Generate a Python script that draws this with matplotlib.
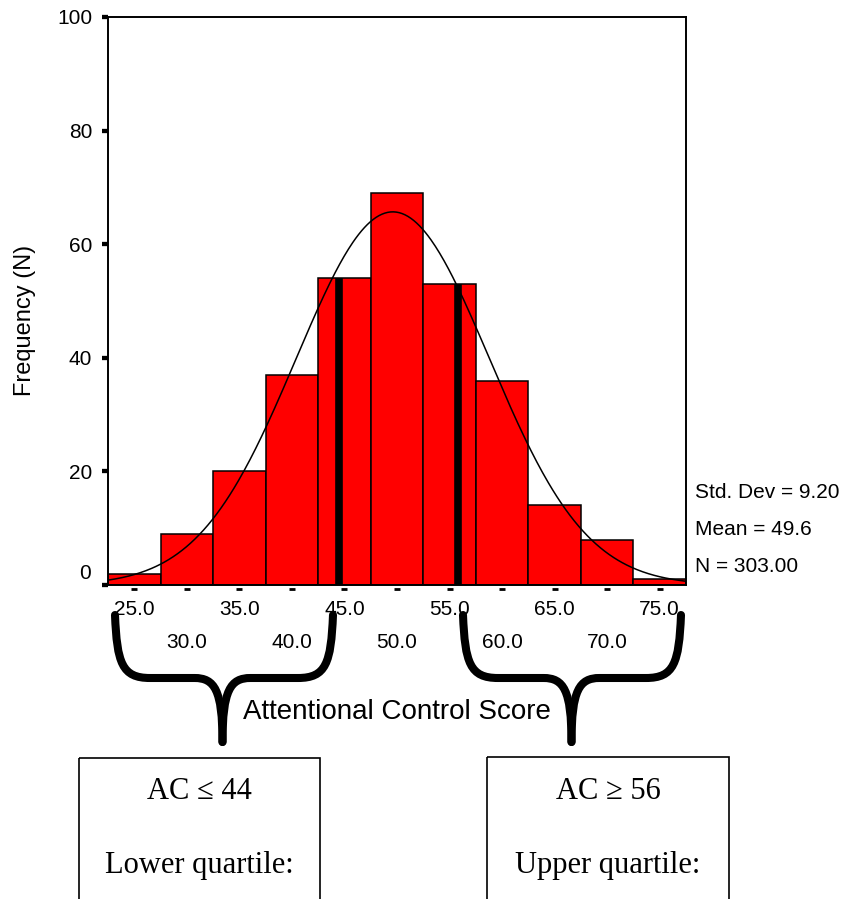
import numpy as np
import matplotlib
matplotlib.use("Agg")
import matplotlib.pyplot as plt
from matplotlib.path import Path
from matplotlib.patches import PathPatch, Rectangle
from matplotlib.transforms import ScaledTranslation

# ---------------- data ----------------
bin_centers = [25, 30, 35, 40, 45, 50, 55, 60, 65, 70, 75]
counts = [2, 9, 20, 37, 54, 69, 53, 36, 14, 8, 1]
bin_width = 5
std_dev = 9.20
mean = 49.6
n_total = 303
cutoffs = [44.5, 55.8]
cutoff_heights = [54, 53]
xtick_row1 = [25.0, 35.0, 45.0, 55.0, 65.0, 75.0]
xtick_row2 = [30.0, 40.0, 50.0, 60.0, 70.0]
yticks = [0, 20, 40, 60, 80, 100]
x_label = "Attentional Control Score"
y_label = "Frequency (N)"
lower_box = ["AC \u2264 44", "Lower quartile:"]
upper_box = ["AC \u2265 56", "Upper quartile:"]

plt.rcParams['font.family'] = ['Liberation Sans', 'DejaVu Sans']
SERIF = ['Liberation Serif', 'DejaVu Serif']

W, H = 843, 899
fig = plt.figure(figsize=(W / 100, H / 100), dpi=100)


def fx(x):
    return x / W


def fy(y):
    return 1 - y / H


ax = fig.add_axes([fx(108), fy(585), (686 - 108) / W, (585 - 17) / H])
ax.bar(bin_centers, counts, width=bin_width, color='#ff0000',
       edgecolor='black', linewidth=1.1, zorder=2)
ax.vlines(cutoffs, 0, cutoff_heights, colors='black', linewidth=5.5, zorder=3)

lo = bin_centers[0] - bin_width / 2
hi = bin_centers[-1] + bin_width / 2
xs = np.linspace(lo, hi, 400)
ys = n_total * bin_width / (std_dev * np.sqrt(2 * np.pi)) * \
    np.exp(-0.5 * ((xs - mean) / std_dev) ** 2)
ax.plot(xs, ys, color='black', lw=1.1, zorder=4)

ax.set_xlim(lo, hi)
ax.set_ylim(0, 100)
for s in ax.spines.values():
    s.set_linewidth(1.4)

ax.set_yticks(yticks)
ax.set_yticklabels(['' if v == 0 else str(v) for v in yticks])
ax.tick_params(axis='y', length=4.3, width=3.1, pad=7, labelsize=15)
ax.text(-0.0, 2, '0', transform=ax.get_yaxis_transform() +
        ScaledTranslation(-0.17, 0, fig.dpi_scale_trans),
        ha='right', va='center', fontsize=15)

ax.set_xticks(xtick_row1)
ax.set_xticklabels([f"{v:.1f}" for v in xtick_row1])
ax.set_xticks(xtick_row2, minor=True)
ax.set_xticklabels([f"{v:.1f}" for v in xtick_row2], minor=True)
ax.tick_params(axis='x', which='major', length=0, pad=11, labelsize=15)
ax.tick_params(axis='x', which='minor', length=0, pad=34.5, labelsize=15)

ax.plot(bin_centers, [0] * len(bin_centers), ls='none', marker='_', ms=5,
        mew=2, color='black', clip_on=False,
        transform=ax.get_xaxis_transform() +
        ScaledTranslation(0, -0.04, fig.dpi_scale_trans))

# stats text
fig.text(fx(695), fy(493), f"Std. Dev = {std_dev:.2f}", va='center', fontsize=15)
fig.text(fx(695), fy(529.5), f"Mean = {mean:.1f}", va='center', fontsize=15)
fig.text(fx(695), fy(566), f"N = {n_total:.2f}", va='center', fontsize=15)

fig.text(fx(25), fy(320), y_label, rotation=90, ha='center', va='center',
         fontsize=17)

# ---------------- overlay (pixel coordinates) ----------------
ov = fig.add_axes([0, 0, 1, 1])
ov.set_xlim(0, W)
ov.set_ylim(H, 0)
ov.axis('off')


def brace(xl, xr, xc, ytop, yh, ytip):
    lw = 5.8
    left = Path([(xl, ytop), (xl + 2, yh - 15), (xl + 7, yh), (xl + 35, yh),
                 (xc - 28, yh), (xc - 8, yh), (xc, yh + 12), (xc, ytip)],
                [Path.MOVETO, Path.CURVE4, Path.CURVE4, Path.CURVE4,
                 Path.LINETO, Path.CURVE4, Path.CURVE4, Path.CURVE4])
    right = Path([(xr, ytop), (xr - 2, yh - 15), (xr - 7, yh), (xr - 35, yh),
                  (xc + 28, yh), (xc + 8, yh), (xc, yh + 12), (xc, ytip)],
                 [Path.MOVETO, Path.CURVE4, Path.CURVE4, Path.CURVE4,
                  Path.LINETO, Path.CURVE4, Path.CURVE4, Path.CURVE4])
    for p in (left, right):
        ov.add_patch(PathPatch(p, fill=False, lw=lw, edgecolor='black',
                               capstyle='round', joinstyle='round'))


brace(115, 333, 222.5, 615, 678, 742)
brace(463, 681, 571.5, 615, 678, 742)

ov.text(397, 712, x_label, ha='center', va='center', fontsize=20)

ov.add_patch(Rectangle((79, 758), 241, 200, fill=False, lw=1.2,
                       edgecolor='black'))
ov.add_patch(Rectangle((487, 757), 242, 200, fill=False, lw=1.2,
                       edgecolor='black'))

for cx, lines in ((199.5, lower_box), (608, upper_box)):
    ov.text(cx, 799, lines[0], ha='center', va='baseline', fontsize=22,
            family=SERIF)
    ov.text(cx, 873, lines[1], ha='center', va='baseline', fontsize=22,
            family=SERIF)

fig.savefig("out.png", dpi=100)
